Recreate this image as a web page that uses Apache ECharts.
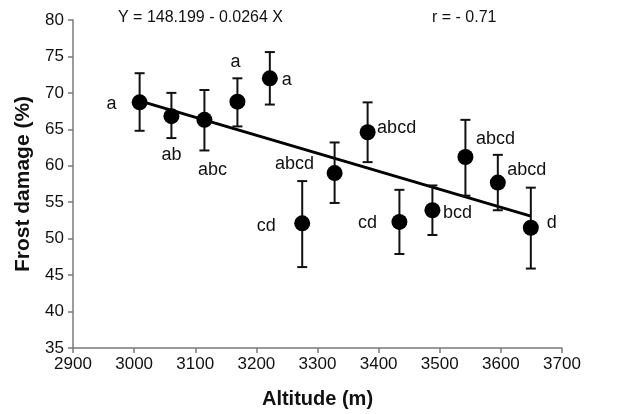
<!DOCTYPE html>
<html>
<head>
<meta charset="utf-8">
<script src="https://cdn.jsdelivr.net/npm/echarts@6/dist/echarts.min.js"></script>
<style>html,body{margin:0;padding:0;background:#fff}#c{width:617px;height:414px}</style>
</head>
<body>
<div id="c"></div>
<script>
// ---- data ----
const altitude = [3009, 3061, 3115, 3169, 3222, 3275, 3328, 3382, 3434, 3488, 3542, 3595, 3649];
const damage   = [68.7, 66.8, 66.3, 68.8, 72.0, 52.1, 59.0, 64.6, 52.3, 53.9, 61.2, 57.7, 51.5];
const errHigh  = [72.7, 70.0, 70.4, 72.0, 75.6, 57.9, 63.2, 68.7, 56.7, 57.3, 66.3, 61.5, 57.0];
const errLow   = [64.8, 63.8, 62.1, 65.4, 68.4, 46.1, 54.9, 60.5, 47.9, 50.5, 55.9, 53.9, 45.9];
const groups   = ['a', 'ab', 'abc', 'a', 'a', 'cd', 'abcd', 'abcd', 'cd', 'bcd', 'abcd', 'abcd', 'd'];
const trendX   = [3009, 3649];
const trendY   = [68.9, 53.1];
const xTicks   = [2900, 3000, 3100, 3200, 3300, 3400, 3500, 3600, 3700];
const yTicks   = [35, 40, 45, 50, 55, 60, 65, 70, 75, 80];
const equationText = 'Y = 148.199 - 0.0264 X';
const rText = 'r = - 0.71';
const xTitle = 'Altitude (m)';
const yTitle = 'Frost damage (%)';

// ---- label placement (style) ----
const labelOffsets = [[-28, 2], [0, 39], [8, 50], [-2, -40], [17, 2], [-36, 3], [-40, -9], [29, -4], [-32, 1], [25, 3], [30, -18], [29, -13], [21, -5]];

const FONT = "'Liberation Sans', Arial, sans-serif";
const chart = echarts.init(document.getElementById('c'), null, {renderer: 'canvas'});

const pointData = altitude.map((x, i) => ({
  value: [x, damage[i]],
  label: {offset: labelOffsets[i]}
}));
const errData = altitude.map((x, i) => [x, errLow[i], errHigh[i]]);

chart.setOption({
  animation: false,
  backgroundColor: '#fff',
  grid: {left: 73, right: 55, top: 20, bottom: 61, containLabel: false},
  xAxis: {
    type: 'value', min: xTicks[0], max: xTicks[xTicks.length - 1], interval: 100,
    name: xTitle, nameLocation: 'middle', nameGap: 41,
    nameTextStyle: {fontFamily: FONT, fontWeight: 'bold', fontSize: 20, color: '#111'},
    axisLine: {show: true, onZero: false, lineStyle: {color: '#7a7a7a', width: 1.5}},
    axisTick: {show: true, length: 5, lineStyle: {color: '#7a7a7a', width: 1.5}},
    axisLabel: {fontFamily: FONT, fontSize: 17, color: '#111', margin: 8, formatter: v => String(v)},
    splitLine: {show: false}
  },
  yAxis: {
    type: 'value', min: yTicks[0], max: yTicks[yTicks.length - 1], interval: 5,
    name: yTitle, nameLocation: 'middle', nameGap: 39,
    nameTextStyle: {fontFamily: FONT, fontWeight: 'bold', fontSize: 21, color: '#111'},
    axisLine: {show: true, onZero: false, lineStyle: {color: '#7a7a7a', width: 1.5}},
    axisTick: {show: true, length: 5, lineStyle: {color: '#7a7a7a', width: 1.5}},
    axisLabel: {fontFamily: FONT, fontSize: 17, color: '#111', margin: 9, formatter: v => String(v)},
    splitLine: {show: false}
  },
  graphic: [
    {type: 'text', left: 118, top: 10, style: {text: equationText, font: '16px ' + FONT, fill: '#111'}},
    {type: 'text', left: 432, top: 10, style: {text: rText, font: '16px ' + FONT, fill: '#111'}}
  ],
  series: [
    {
      type: 'line', data: trendX.map((x, i) => [x, trendY[i]]), symbol: 'none', z: 3,
      lineStyle: {color: '#000', width: 3}
    },
    {
      type: 'custom', z: 4,
      data: errData,
      renderItem: function (params, api) {
        const x = api.value(0);
        const lo = api.coord([x, api.value(1)]);
        const hi = api.coord([x, api.value(2)]);
        const hw = 5;
        const st = {stroke: '#111', lineWidth: 2};
        return {
          type: 'group',
          children: [
            {type: 'line', shape: {x1: lo[0], y1: lo[1], x2: hi[0], y2: hi[1]}, style: st},
            {type: 'line', shape: {x1: hi[0] - hw, y1: hi[1], x2: hi[0] + hw, y2: hi[1]}, style: st},
            {type: 'line', shape: {x1: lo[0] - hw, y1: lo[1], x2: lo[0] + hw, y2: lo[1]}, style: st}
          ]
        };
      }
    },
    {
      type: 'scatter', z: 5, symbol: 'circle', symbolSize: 16,
      itemStyle: {color: '#000', opacity: 1},
      data: pointData,
      label: {
        show: true, position: 'inside', align: 'center', verticalAlign: 'middle',
        fontFamily: FONT, fontSize: 18, color: '#111',
        formatter: p => groups[p.dataIndex]
      }
    }
  ]
});
</script>
</body>
</html>
